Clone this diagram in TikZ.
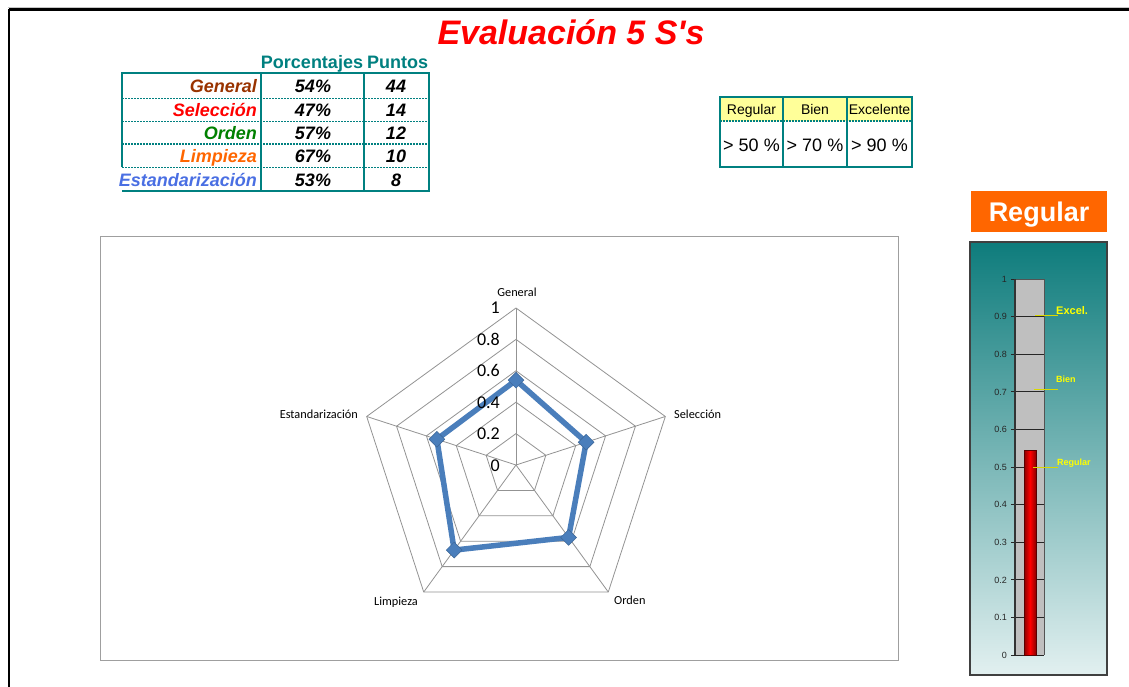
\documentclass[tikz,border=0pt]{standalone}
\usepackage{fontspec}
\setmainfont{Liberation Sans}
\newfontfamily\calib{Carlito}
\usetikzlibrary{shapes.geometric}
\definecolor{tealc}{HTML}{008080}
\definecolor{brownc}{HTML}{993300}
\definecolor{greenc}{HTML}{008000}
\definecolor{orangec}{HTML}{FF6600}
\definecolor{bluec}{HTML}{4A6FE3}
\definecolor{radarblue}{HTML}{4A7EBB}
\definecolor{yellowfill}{HTML}{FFFF99}
\definecolor{gaugetop}{HTML}{0E7C7C}
\definecolor{gaugebot}{HTML}{E2F0F0}
\definecolor{ylab}{HTML}{FFFF00}
\tikzset{
  tblline/.style={draw=tealc, line width=2pt},
  tblsep/.style={draw=tealc, line width=1.4pt, dash pattern=on 2pt off 1pt},
  rowlab/.style={font=\fontsize{18}{20}\selectfont\bfseries\itshape, anchor=base east, inner sep=0pt},
  cellv/.style={font=\fontsize{18}{20}\selectfont\bfseries\itshape, anchor=base, inner sep=0pt},
  hdr/.style={font=\fontsize{18}{20}\selectfont\bfseries, text=tealc, anchor=base, inner sep=0pt},
  crit/.style={font=\fontsize{14}{16}\selectfont, anchor=base, inner sep=0pt},
  critv/.style={font=\fontsize{18}{20}\selectfont, anchor=base, inner sep=0pt},
  ring/.style={draw=gray!85, line width=0.8pt},
  axlab/.style={font=\calib\fontsize{12.3}{14}\selectfont, inner sep=0pt},
  vlab/.style={font=\calib\fontsize{18}{20}\selectfont, anchor=base east, inner sep=0pt},
  marker/.style={diamond, fill=radarblue, draw=radarblue!80!black, line width=0.5pt, minimum width=16pt, minimum height=16pt, inner sep=0pt},
  gtick/.style={font=\fontsize{9}{10}\selectfont, text=black!85, anchor=base east, inner sep=0pt},
  glab/.style={text=ylab, anchor=base west, inner sep=0pt},
  yline/.style={draw=ylab!85!black, line width=1pt}
}
\begin{document}
\begin{tikzpicture}[x=1pt,y=-1pt]
\useasboundingbox (0,0) rectangle (1129,687);
\fill[white] (0,0) rectangle (1129,687);
% outer frame
\draw[gray!45, line width=1.2pt] (8,7.5) -- (1129,7.5);
\draw[black, line width=2.5pt] (9,9.5) -- (1129,9.5);
\draw[black, line width=2.5pt] (9,9.5) -- (9,687);

% title
\node[font=\fontsize{34}{40}\selectfont\bfseries\itshape, text=red, inner sep=0pt, anchor=base] (title) at (571,45) {Evaluación 5 S\textquotesingle s};

% ---- top-left table ----
\node[hdr] (hpct) at (312,68.5) {Porcentajes};
\node[hdr] (hpts) at (397.5,68.5) {Puntos};
\draw[tblsep] (122,98.5) -- (429,98.5);
\draw[tblsep] (122,121.5) -- (429,121.5);
\draw[tblsep] (122,144) -- (429,144);
\draw[tblsep] (122,167.5) -- (429,167.5);
\draw[tblline] (122,167.5) -- (122,73) -- (429,73) -- (429,191) -- (122,191);
\draw[tblline] (261,73) -- (261,191);
\draw[tblline] (364,73) -- (364,191);
\node[rowlab, text=brownc] (lgen) at (257,93) {General};
\node[rowlab, text=red] (lsel) at (257,116.5) {Selección};
\node[rowlab, text=greenc] (lord) at (257,139.5) {Orden};
\node[rowlab, text=orangec] (llim) at (257,162.5) {Limpieza};
\node[rowlab, text=bluec] (lest) at (257,186.5) {Estandarización};
\node[cellv] (pgen) at (313,93) {54\%};
\node[cellv] (psel) at (313,116.5) {47\%};
\node[cellv] (pord) at (313,139.5) {57\%};
\node[cellv] (plim) at (313,162.5) {67\%};
\node[cellv] (pest) at (313,186.5) {53\%};
\node[cellv] (ngen) at (396,93) {44};
\node[cellv] (nsel) at (396,116.5) {14};
\node[cellv] (nord) at (396,139.5) {12};
\node[cellv] (nlim) at (396,162.5) {10};
\node[cellv] (nest) at (396,186.5) {8};

% ---- criteria table ----
\fill[yellowfill] (720,97) rectangle (912,121);
\draw[tblsep] (720,121) -- (912,121);
\draw[tblline] (720,97) rectangle (912,167);
\draw[tblline] (783,97) -- (783,167);
\draw[tblline] (847,97) -- (847,167);
\node[crit] (creg) at (751.5,115) {Regular};
\node[crit] (cbien) at (815,115) {Bien};
\node[crit] (cexc) at (879.5,115) {Excelente};
\node[critv] (vreg) at (751.5,151.5) {> 50 \%};
\node[critv] (vbien) at (815,151.5) {> 70 \%};
\node[critv] (vexc) at (879.5,151.5) {> 90 \%};

% ---- radar chart ----
\draw[gray!75, line width=1pt] (100,236) rectangle (898,660);
\begin{scope}[shift={(516,465)}]
  \coordinate (rc) at (0,0);
  \coordinate (vG) at (-90:157);
  \coordinate (vS) at (-18:157);
  \coordinate (vO) at (54:157);
  \coordinate (vL) at (126:157);
  \coordinate (vE) at (198:157);
  \foreach \r in {31.4,62.8,94.2,125.6,157}
    \draw[ring] (-90:\r) -- (-18:\r) -- (54:\r) -- (126:\r) -- (198:\r) -- cycle;
  \foreach \v in {vG,vS,vO,vL,vE}
    \draw[ring] (rc) -- (\v);
  \coordinate (dG) at (-90:84.78);
  \coordinate (dS) at (-18:73.79);
  \coordinate (dO) at (54:89.49);
  \coordinate (dL) at (126:105.19);
  \coordinate (dE) at (198:83.21);
  \draw[radarblue, line width=5.5pt, line join=round] (dG) -- (dS) -- (dO) -- (dL) -- (dE) -- cycle;
  \foreach \p in {dG,dS,dO,dL,dE}
    \node[marker] (m\p) at (\p) {};
\end{scope}
\node[vlab] (t10) at (500,313) {1};
\node[vlab] (t08) at (500,345) {0.8};
\node[vlab] (t06) at (500,376) {0.6};
\node[vlab] (t04) at (500,408) {0.4};
\node[vlab] (t02) at (500,439.5) {0.2};
\node[vlab] (t00) at (500,471) {0};
\node[axlab, anchor=base] (aG) at (517,296) {General};
\node[axlab, anchor=base west] (aS) at (674,418) {Selección};
\node[axlab, anchor=base west] (aO) at (614,604) {Orden};
\node[axlab, anchor=base east] (aL) at (418,605) {Limpieza};
\node[axlab, anchor=base east] (aE) at (358,418) {Estandarización};

% ---- status box ----
\fill[orangec] (971,191) rectangle (1107,232);
\node[text=white, font=\fontsize{27}{30}\selectfont\bfseries, inner sep=0pt, anchor=base] (status) at (1039,221.5) {Regular};

% ---- gauge ----
\shade[top color=gaugetop, bottom color=gaugebot] (970,242) rectangle (1107,675);
\draw[black!75, line width=1.5pt] (970,242) rectangle (1107,675);
\fill[gray!50] (1015,279) rectangle (1044,655);
\draw[gray!65!black, line width=1pt] (1015,279) -- (1044,279) -- (1044,655);
\foreach \k in {1,...,9}
  \draw[black!85, line width=1pt] (1011,655-37.6*\k) -- (1044,655-37.6*\k);
\draw[black!85, line width=1pt] (1011,279) -- (1015,279);
\draw[black!85, line width=1pt] (1011,655) -- (1044,655);
\draw[black!80, line width=1.2pt] (1015,279) -- (1015,655);
\foreach \k/\lab in {0/0,1/0.1,2/0.2,3/0.3,4/0.4,5/0.5,6/0.6,7/0.7,8/0.8,9/0.9,10/1}
  \node[gtick] (g\k) at (1007,658.3-37.6*\k) {\lab};
\shade[left color=red!55!black, right color=red!55!black, middle color=red] (1024,450) rectangle (1036,655);
\draw[red!35!black, line width=1pt] (1024,450) rectangle (1036,655);
\coordinate (ye1) at (1035,315.5);
\coordinate (ye2) at (1058,315.5);
\coordinate (yb1) at (1034,389.5);
\coordinate (yb2) at (1058,389.5);
\coordinate (yr1) at (1033,467);
\coordinate (yr2) at (1058,467);
\draw[yline] (ye1) -- (ye2);
\draw[yline] (yb1) -- (yb2);
\draw[yline] (yr1) -- (yr2);
\node[glab, font=\fontsize{11}{13}\selectfont\bfseries] (lex) at (1056,314) {Excel.};
\node[glab, font=\fontsize{9}{11}\selectfont\bfseries] (lbi) at (1056,382.5) {Bien};
\node[glab, font=\fontsize{9}{11}\selectfont\bfseries] (lre) at (1057,465.5) {Regular};
\end{tikzpicture}
\end{document}
